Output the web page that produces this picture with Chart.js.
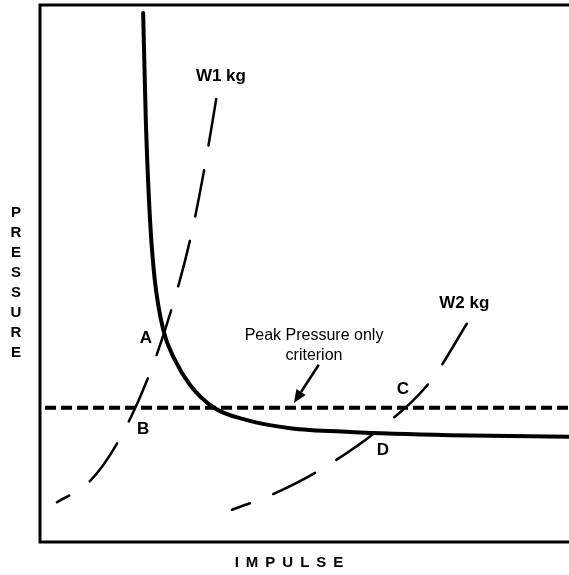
<!DOCTYPE html>
<html>
<head>
<meta charset="utf-8">
<script src="https://cdn.jsdelivr.net/npm/chart.js@4/dist/chart.umd.min.js"></script>
<style>
  html, body { margin: 0; padding: 0; background: #ffffff; }
  #wrap { width: 569px; height: 575px; position: relative; }
</style>
</head>
<body>
<div id="wrap"><canvas id="c" width="569" height="575"></canvas></div>
<script>
// ---- data (schematic units, 0..100 on both axes) ----
const curveX = [19.5, 20.0, 20.8, 21.7, 23.3, 25.5, 28.4, 32.9, 39.1, 47.3, 58.6, 77.5, 100];
const curveY = [98.5, 78.6, 60.0, 48.8, 39.5, 33.9, 29.2, 25.0, 22.7, 21.2, 20.5, 19.9, 19.6];

const w1X = [3.2, 9.3, 14.6, 20.4, 25.0, 28.5, 31.2, 33.5];
const w1Y = [7.4, 11.2, 18.4, 30.5, 43.8, 56.8, 70.2, 83.6];

const w2X = [36.3, 44.0, 52.2, 63.5, 73.7, 81.1];
const w2Y = [6.0, 8.9, 13.0, 20.5, 29.8, 41.3];

const criterionX = [0, 100];
const criterionY = [25, 25];

const pointLabels = ['A', 'B', 'C', 'D', 'W1 kg', 'W2 kg'];
const pointLabelX = [20.0, 19.5, 68.6, 64.8, 34.2, 80.2];
const pointLabelY = [38.0, 20.9, 28.5, 17.1, 86.8, 44.5];

const noteLines = ['Peak Pressure only', 'criterion'];
const noteX = 51.8;
const noteY = [38.5, 34.8];
const arrowFrom = [52.7, 33.0];
const arrowTo = [48.0, 25.9];

const xTitle = 'IMPULSE';
const yTitle = 'PRESSURE';

const toPts = (xs, ys) => xs.map((x, i) => ({ x: x, y: ys[i] }));

const decorPlugin = {
  id: 'decor',
  afterDatasetsDraw(chart) {
    const ctx = chart.ctx;
    const a = chart.chartArea;
    const sx = chart.scales.x, sy = chart.scales.y;
    ctx.save();
    // frame: left, top, bottom
    ctx.strokeStyle = '#000';
    ctx.lineWidth = 3;
    ctx.lineCap = 'square';
    ctx.beginPath();
    ctx.moveTo(a.right + 2, a.top);
    ctx.lineTo(a.left, a.top);
    ctx.lineTo(a.left, a.bottom);
    ctx.lineTo(a.right + 2, a.bottom);
    ctx.stroke();

    // point labels
    ctx.fillStyle = '#000';
    ctx.textAlign = 'center';
    ctx.textBaseline = 'middle';
    ctx.font = 'bold 17px "Liberation Sans", Arial, sans-serif';
    pointLabels.forEach((t, i) => {
      ctx.fillText(t, sx.getPixelForValue(pointLabelX[i]), sy.getPixelForValue(pointLabelY[i]));
    });

    // note text
    ctx.font = '16px "Liberation Sans", Arial, sans-serif';
    noteLines.forEach((t, i) => {
      ctx.fillText(t, sx.getPixelForValue(noteX), sy.getPixelForValue(noteY[i]));
    });

    // arrow
    const x1 = sx.getPixelForValue(arrowFrom[0]), y1 = sy.getPixelForValue(arrowFrom[1]);
    const x2 = sx.getPixelForValue(arrowTo[0]), y2 = sy.getPixelForValue(arrowTo[1]);
    const ang = Math.atan2(y2 - y1, x2 - x1);
    const hl = 13, hw = 5.5;
    const bx = x2 - hl * Math.cos(ang), by = y2 - hl * Math.sin(ang);
    ctx.lineWidth = 2.5;
    ctx.lineCap = 'butt';
    ctx.beginPath();
    ctx.moveTo(x1, y1);
    ctx.lineTo(bx, by);
    ctx.stroke();
    ctx.beginPath();
    ctx.moveTo(x2, y2);
    ctx.lineTo(bx + hw * Math.sin(ang), by - hw * Math.cos(ang));
    ctx.lineTo(bx - hw * Math.sin(ang), by + hw * Math.cos(ang));
    ctx.closePath();
    ctx.fill();

    // axis titles
    ctx.font = 'bold 15px "Liberation Sans", Arial, sans-serif';
    const letters = yTitle.split('');
    const step = 20;
    const firstY = a.top + 208;
    letters.forEach((ch, i) => {
      ctx.fillText(ch, 16, firstY + i * step);
    });
    const xl = xTitle.split('');
    const gap = 7;
    const widths = xl.map(ch => ctx.measureText(ch).width);
    const total = widths.reduce((s, w) => s + w, 0) + gap * (xl.length - 1);
    let cx = a.left + 249 - total / 2;
    ctx.textAlign = 'left';
    xl.forEach((ch, i) => {
      ctx.fillText(ch, cx, a.bottom + 21);
      cx += widths[i] + gap;
    });
    ctx.restore();
  }
};

new Chart(document.getElementById('c'), {
  type: 'scatter',
  data: {
    datasets: [
      {
        label: 'Criterion',
        data: toPts(criterionX, criterionY),
        showLine: true,
        borderColor: '#000',
        borderWidth: 4,
        borderDash: [11, 5],
        borderDashOffset: 11,
        borderCapStyle: 'butt',
        pointRadius: 0,
        tension: 0
      },
      {
        label: 'Iso-damage curve',
        data: toPts(curveX, curveY),
        showLine: true,
        borderColor: '#000',
        borderWidth: 4,
        borderCapStyle: 'round',
        cubicInterpolationMode: 'monotone',
        pointRadius: 0
      },
      {
        label: 'W1 kg',
        data: toPts(w1X, w1Y),
        showLine: true,
        borderColor: '#000',
        borderWidth: 2.5,
        borderDash: [47, 25],
        borderDashOffset: 33,
        borderCapStyle: 'round',
        cubicInterpolationMode: 'monotone',
        pointRadius: 0
      },
      {
        label: 'W2 kg',
        data: toPts(w2X, w2Y),
        showLine: true,
        borderColor: '#000',
        borderWidth: 2.5,
        borderDash: [47, 25],
        borderDashOffset: 28,
        borderCapStyle: 'round',
        cubicInterpolationMode: 'monotone',
        pointRadius: 0
      }
    ]
  },
  options: {
    responsive: false,
    animation: false,
    devicePixelRatio: 1,
    layout: { padding: { left: 40, top: 5, right: 0, bottom: 33 } },
    plugins: { legend: { display: false }, tooltip: { enabled: false } },
    scales: {
      x: { type: 'linear', min: 0, max: 100, display: false },
      y: { type: 'linear', min: 0, max: 100, display: false }
    }
  },
  plugins: [decorPlugin]
});
</script>
</body>
</html>
